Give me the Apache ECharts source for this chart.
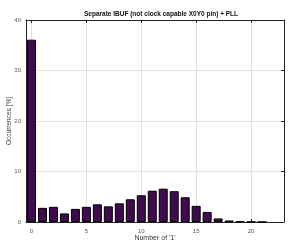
<!DOCTYPE html>
<html><head><meta charset="utf-8">
<script src="https://cdn.jsdelivr.net/npm/echarts@6/dist/echarts.min.js"></script>
<style>html,body{margin:0;padding:0;background:#fff}#c{width:293px;height:245px}</style>
</head><body><div id="c"></div>
<script>
const titleText = "Separate IBUF (not clock capable X0Y0 pin) + PLL";
const xLabel = "Number of '1'";
const yLabel = "Occurrences [%]";
const ones = [0,1,2,3,4,5,6,7,8,9,10,11,12,13,14,15,16,17,18,19,20,21];
const occurrences = [36.1,2.8,3.0,1.7,2.6,3.0,3.5,3.1,3.7,4.5,5.3,6.2,6.6,6.1,4.9,3.2,2.0,0.7,0.3,0.1,0.05,0.02];
const yTicks = [0,10,20,30,40];

const chart = echarts.init(document.getElementById('c'), null, {renderer:'canvas'});
const font = 'Liberation Sans, Arial, sans-serif';
const axisCommon = {
  axisLine:{show:true,onZero:false,lineStyle:{color:'#222',width:1}},
  axisTick:{show:true,inside:true,length:3,lineStyle:{color:'#222'}},
};
chart.setOption({
  animation:false,
  title:{text:titleText,left:156,textAlign:'center',top:6,textStyle:{fontSize:6.5,fontWeight:'bold',fontFamily:font,color:'#111'}},
  grid:{left:26,right:9,top:20,bottom:23,containLabel:false,outerBoundsMode:'none'},
  xAxis:[{
    type:'value',min:-0.5,max:23,splitNumber:5,minInterval:5,maxInterval:5,
    name:xLabel,nameLocation:'middle',nameGap:13,nameMoveOverlap:false,
    nameTextStyle:{fontSize:7,fontFamily:font,color:'#333'},
    ...axisCommon,
    axisLabel:{fontSize:6,fontFamily:font,color:'#555',margin:6,showMinLabel:false,showMaxLabel:false},
    splitLine:{show:true,lineStyle:{color:'#e2e2e2',width:1}}
  },{
    type:'value',min:-0.5,max:23,splitNumber:5,minInterval:5,maxInterval:5,position:'top',
    ...axisCommon,axisLabel:{show:false},splitLine:{show:false}
  }],
  yAxis:[{
    type:'value',min:0,max:40,interval:10,
    name:yLabel,nameLocation:'middle',nameGap:13,nameMoveOverlap:false,
    nameTextStyle:{fontSize:6.5,fontFamily:font,color:'#333'},
    ...axisCommon,
    axisLabel:{fontSize:6,fontFamily:font,color:'#555',margin:5},
    splitLine:{show:true,lineStyle:{color:'#e2e2e2',width:1}}
  },{
    type:'value',min:0,max:40,interval:10,position:'right',
    ...axisCommon,axisLabel:{show:false},splitLine:{show:false}
  }],
  series:[{
    type:'bar',xAxisIndex:0,yAxisIndex:0,barWidth:9,
    data:ones.map((x,i)=>[x,occurrences[i]]),
    itemStyle:{color:'#3f0a4e',borderColor:'#000',borderWidth:1}
  }]
});
</script></body></html>
